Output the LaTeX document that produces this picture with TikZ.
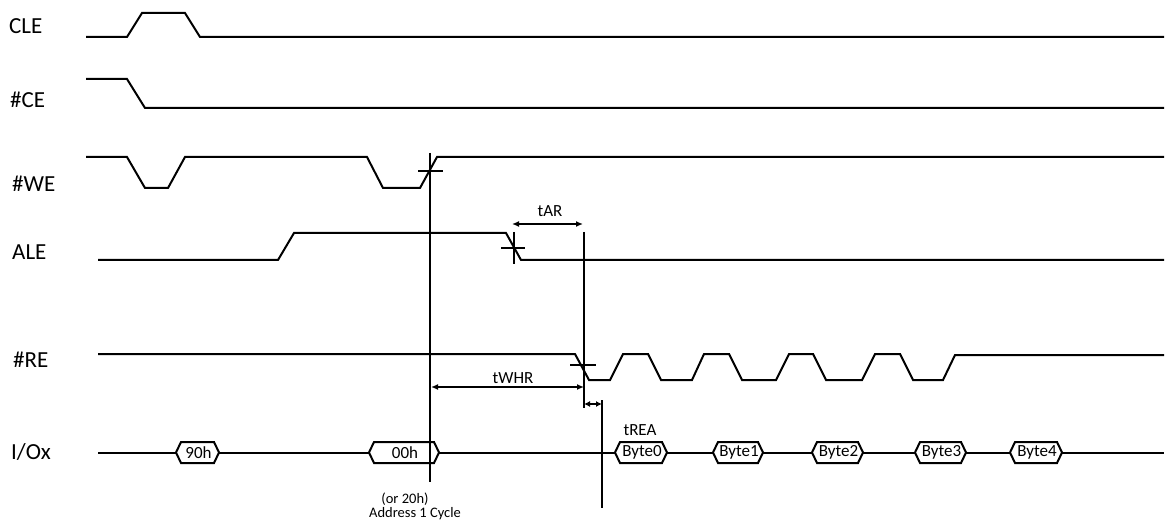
\documentclass[tikz,border=0pt]{standalone}
\usepackage{fontspec}
\setmainfont{Carlito}
\usetikzlibrary{arrows.meta}
\newcommand\hexbx[4]{%
  \draw[hexbox] (#1,452.5) -- (#1+5,442) -- (#2-5,442) -- (#2,452.5) -- (#2-5,463) -- (#1+5,463) -- cycle;
  \node[boxtxt] (#3) at ({(#1+#2)/2+1},452.5) {#4};}
\begin{document}
\begin{tikzpicture}[x=1pt,y=-1pt,
  sig/.style={line width=2pt,line join=miter},
  tickln/.style={line width=2pt},
  dim/.style={line width=1.6pt,{Latex[length=7pt,width=6pt]}-{Latex[length=7pt,width=6pt]}},
  lab/.style={inner sep=0pt,anchor=base west,font=\fontsize{23}{23}\selectfont},
  small/.style={inner sep=0pt,anchor=base,font=\fontsize{17}{17}\selectfont},
  note/.style={inner sep=0pt,anchor=base,font=\fontsize{14.5}{14.5}\selectfont},
  hexbox/.style={line width=2pt,fill=white,line join=miter},
  boxtxt/.style={inner sep=0pt,font=\fontsize{17}{17}\selectfont}]
\useasboundingbox (0,0) rectangle (1167,521);
% labels
\node[lab] (lcle) at (9,34) {CLE};
\node[lab] (lce) at (10,108) {\#CE};
\node[lab] (lwe) at (12,191.5) {\#WE};
\node[lab] (lale) at (12,260) {ALE};
\node[lab] (lre) at (13,367) {\#RE};
\node[lab] (lio) at (11,459.5) {I/Ox};
% CLE
\draw[sig] (86,37) -- (127,37) -- (142,13) -- (185,13) -- (200,37) -- (1164,37);
% #CE
\draw[sig] (86,79) -- (127,79) -- (145,108) -- (1164,108);
% #WE
\draw[sig] (86,157) -- (127,157) -- (145,188) -- (168,188) -- (185,157) -- (367,157) -- (383,188) -- (420,188) -- (437,157) -- (1164,157);
% ALE
\draw[sig] (98,260) -- (278,260) -- (294,233) -- (506,233) -- (521,260) -- (1164,260);
% #RE
\draw[sig] (98,354) -- (575,354) -- (589,380) -- (610,380) -- (623,354) -- (648,354) -- (661,380) -- (692,380) -- (704,354) -- (729,354) -- (742,380) -- (776,380) -- (789,354) -- (813,354) -- (826,380) -- (862,380) -- (875,354) -- (900,354) -- (913,380) -- (943,380) -- (955,355) -- (1164,355);
% I/Ox
\draw[sig] (98,452.5) -- (1164,452.5);
\hexbx{176}{219}{b90}{90h}
\hexbx{369}{439}{b00}{00h}
\hexbx{615}{667}{by0}{Byte0}
\hexbx{713}{763}{by1}{Byte1}
\hexbx{812}{863}{by2}{Byte2}
\hexbx{915}{966}{by3}{Byte3}
\hexbx{1010}{1062}{by4}{Byte4}
% vertical reference lines
\draw[tickln] (430,153) -- (430,482);
\draw[tickln] (584,232) -- (584,408);
\draw[tickln] (602,400) -- (602,508);
% cross marks
\draw[tickln] (418,171) -- (443,171);
\draw[tickln] (514,232) -- (514,264);
\draw[tickln] (501,248) -- (525,248);
\draw[tickln] (570,365) -- (596,365);
% dimension arrows
\coordinate (arA) at (512,224); \coordinate (arB) at (583,224);
\draw[dim] (arA) -- (arB);
\node[small] (ttar) at (550,217) {tAR};
\coordinate (whA) at (431,387); \coordinate (whB) at (584,387);
\draw[dim] (whA) -- (whB);
\node[small] (ttwhr) at (513,383) {tWHR};
\coordinate (reA) at (584,404); \coordinate (reB) at (602,404);
\draw[line width=1.6pt,{Latex[length=6pt,width=6pt]}-{Latex[length=6pt,width=6pt]}] (reA) -- (reB);
\node[small] (ttrea) at (640,435.5) {tREA};
% note
\node[note] (n1) at (405,503) {(or 20h)};
\node[note] (n2) at (415,517) {Address 1 Cycle};
\end{tikzpicture}
\end{document}
